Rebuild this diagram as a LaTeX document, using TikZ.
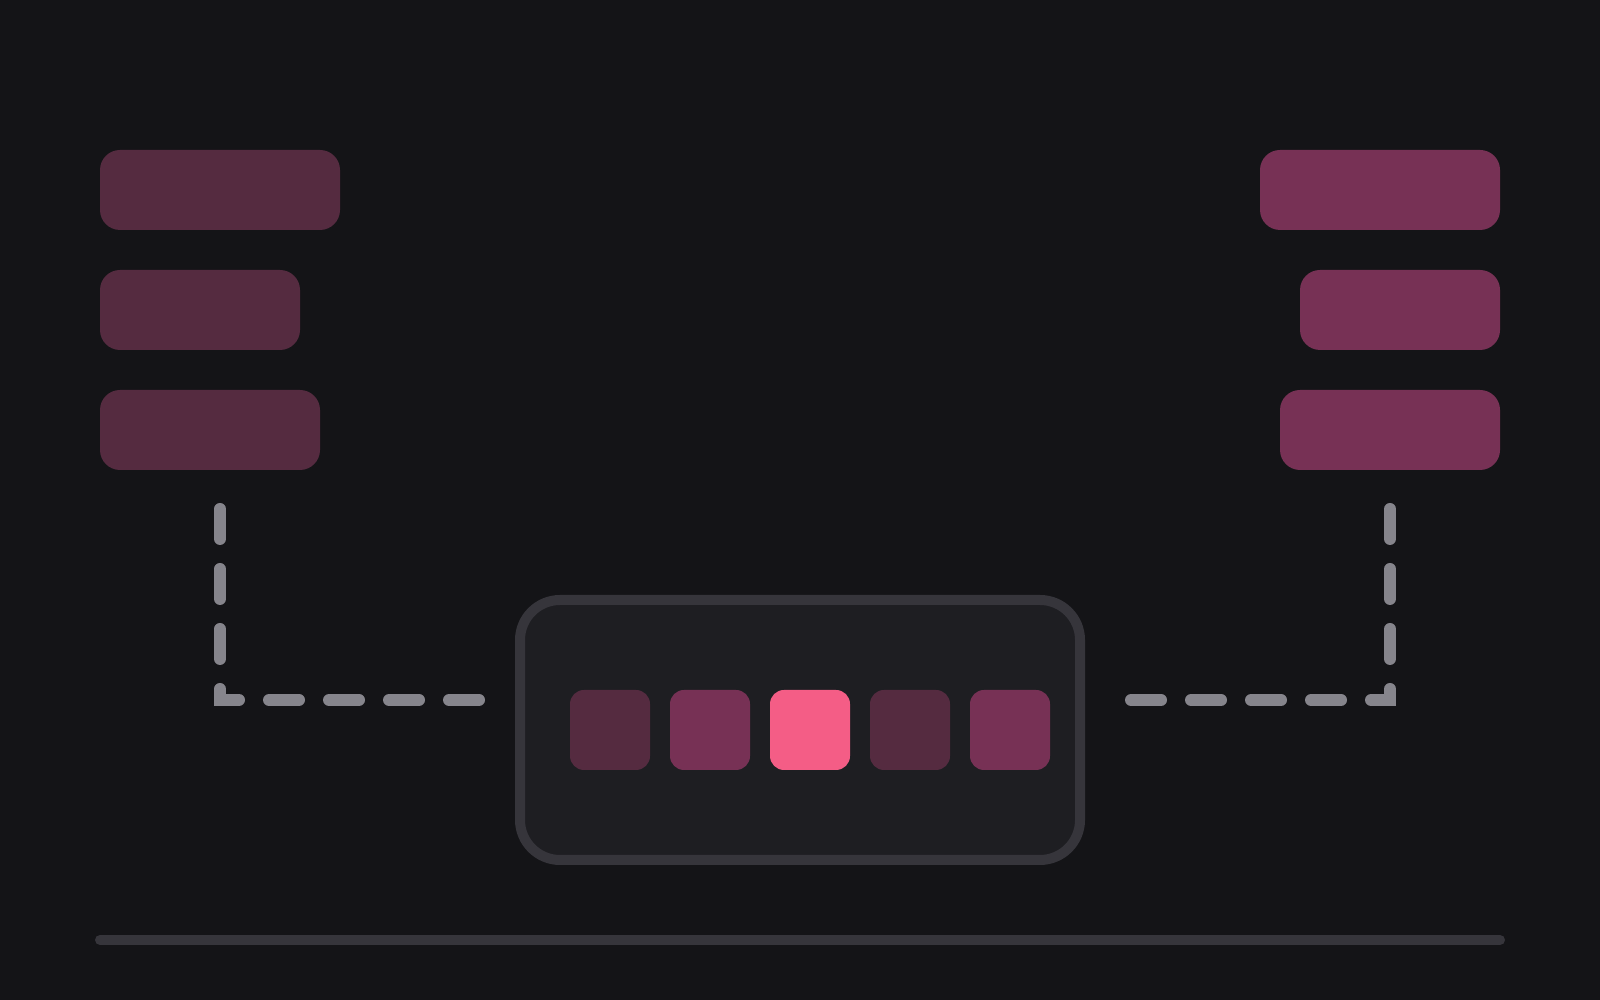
\documentclass[tikz,border=0pt]{standalone}
\usetikzlibrary{backgrounds,positioning,calc}
\definecolor{bg}{HTML}{141417}
\definecolor{plumdark}{HTML}{552B40}
\definecolor{plummid}{HTML}{773155}
\definecolor{pinkhot}{HTML}{F45D86}
\definecolor{panel}{HTML}{1E1E22}
\definecolor{rim}{HTML}{36353B}
\definecolor{wire}{HTML}{86858C}
\tikzset{
  darkbg/.style = {
    background rectangle/.style={fill=bg},
    inner frame sep=0pt,
    show background rectangle
  }
}
\tikzset{
  slab/.style = {rectangle, rounded corners=0.2cm, inner sep=0pt, outer sep=0pt, minimum height=0.8cm},
  cell/.style = {rectangle, rounded corners=0.14cm, inner sep=0pt, outer sep=0pt, minimum size=0.8cm},
  link/.style = {line width=0.12cm, wire, line cap=round, line join=miter, dash pattern=on 0.3cm off 0.3cm}
}

\begin{document}
\begin{tikzpicture}[darkbg]
  \useasboundingbox (0,0) rectangle (16,10);
  % left stack
  \node[slab, fill=plumdark, minimum width=2.4cm, anchor=north west] (l1) at (1,8.5) {};
  \node[slab, fill=plumdark, minimum width=2.0cm, below right=0.4cm and 0cm of l1.south west] (l2) {};
  \node[slab, fill=plumdark, minimum width=2.2cm, below right=0.4cm and 0cm of l2.south west] (l3) {};
  % right stack
  \node[slab, fill=plummid, minimum width=2.4cm, anchor=north east] (r1) at (15,8.5) {};
  \node[slab, fill=plummid, minimum width=2.0cm, below left=0.4cm and 0cm of r1.south east] (r2) {};
  \node[slab, fill=plummid, minimum width=2.2cm, below left=0.4cm and 0cm of r2.south east] (r3) {};
  % hub with cells
  \node[draw=rim, fill=panel, line width=0.1cm, rounded corners=0.4cm, inner sep=0pt, outer sep=0pt,
        minimum width=5.6cm, minimum height=2.6cm] (hub) at (8,2.7) {};
  \foreach \c [count=\i] in {plumdark,plummid,pinkhot,plumdark,plummid}
    \node[cell, fill=\c] (c\i) at ($(hub.center)+(\i-2.9,0)$) {};
  % links
  \coordinate (la) at ($(l1.south |- l3.south)+(0,-0.39)$);
  \coordinate (lb) at ($(hub.west)+(-0.4,0.3)$);
  \coordinate (ra) at ($(r3.south)+(0,-0.39)$);
  \coordinate (rb) at ($(hub.east)+(0.5,0.3)$);
  \draw[link] (la) |- (lb);
  \draw[link] (ra) |- (rb);
  % base line
  \draw[line width=0.1cm, rim, line cap=round] (1,0.6) -- (15,0.6);
\end{tikzpicture}
\end{document}
